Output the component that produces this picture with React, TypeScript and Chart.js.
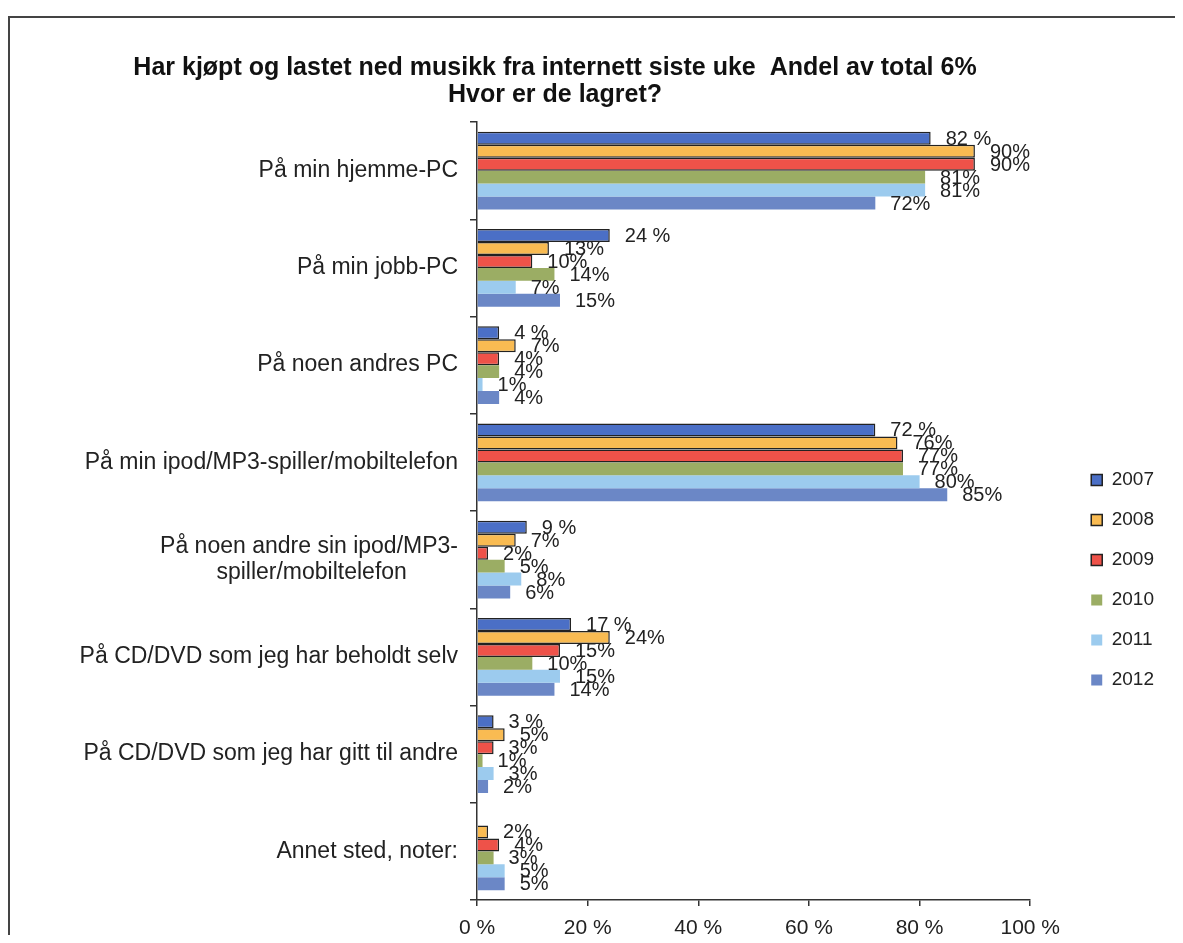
import React, { useEffect, useRef } from 'react';
import { Chart, registerables } from 'chart.js';

Chart.register(...registerables);

const titleLines = [
  'Har kjøpt og lastet ned musikk fra internett siste uke  Andel av total 6%',
  'Hvor er de lagret?',
];

const categories: (string | string[])[] = [
  'På min hjemme-PC',
  'På min jobb-PC',
  'På noen andres PC',
  'På min ipod/MP3-spiller/mobiltelefon',
  ['På noen andre sin ipod/MP3-', 'spiller/mobiltelefon        '],
  'På CD/DVD som jeg har beholdt selv',
  'På CD/DVD som jeg har gitt til andre',
  'Annet sted, noter:',
];

const years = ['2007', '2008', '2009', '2010', '2011', '2012'];

const v2007 = [82, 24, 4, 72, 9, 17, 3, null];
const v2008 = [90, 13, 7, 76, 7, 24, 5, 2];
const v2009 = [90, 10, 4, 77, 2, 15, 3, 4];
const v2010 = [81, 14, 4, 77, 5, 10, 1, 3];
const v2011 = [81, 7, 1, 80, 8, 15, 3, 5];
const v2012 = [72, 15, 4, 85, 6, 14, 2, 5];

const xTicks = [0, 20, 40, 60, 80, 100];

const seriesValues = [v2007, v2008, v2009, v2010, v2011, v2012];
const seriesColors = ['#4b6fc6', '#f9bb52', '#ee5249', '#9bad64', '#9ccbee', '#6b87c6'];
const seriesBorders = [1.5, 1.5, 1.5, 0, 0, 0];
const labelSeparators = [' ', '', '', '', '', ''];

const FONT = '"Liberation Sans", Arial, Helvetica, sans-serif';

const titlePlugin = {
  id: 'scanTitle',
  afterDraw(chart: any) {
    const ctx = chart.ctx;
    ctx.save();
    ctx.font = `bold 25px ${FONT}`;
    ctx.fillStyle = '#111';
    ctx.textAlign = 'center';
    ctx.textBaseline = 'middle';
    titleLines.forEach((line, i) => {
      ctx.fillText(line, 545, 50 + i * 27);
    });
    ctx.restore();
  },
};

const valueLabelPlugin = {
  id: 'valueLabels',
  afterDatasetsDraw(chart: any) {
    const ctx = chart.ctx;
    ctx.save();
    ctx.font = `20px ${FONT}`;
    ctx.fillStyle = '#222';
    ctx.textAlign = 'left';
    ctx.textBaseline = 'middle';
    chart.data.datasets.forEach((ds: any, i: number) => {
      const meta = chart.getDatasetMeta(i);
      meta.data.forEach((bar: any, j: number) => {
        const v = ds.data[j];
        if (v === null || v === undefined) return;
        ctx.fillText(`${v}${labelSeparators[i]}%`, bar.x + 15, bar.y + 1);
      });
    });
    ctx.restore();
  },
};

export default function App() {
  const ref = useRef<HTMLCanvasElement>(null);

  useEffect(() => {
    if (!ref.current) return;
    Chart.defaults.font.family = FONT;
    const chart = new Chart(ref.current, {
      type: 'bar',
      data: {
        labels: categories,
        datasets: years.map((y, i) => ({
          label: y,
          data: seriesValues[i],
          backgroundColor: seriesColors[i],
          borderColor: '#222',
          borderWidth: seriesBorders[i],
          categoryPercentage: 0.8,
          barPercentage: 1.0,
        })),
      },
      options: {
        indexAxis: 'y',
        responsive: false,
        animation: false,
        layout: { padding: { top: 104, right: 17, left: 0, bottom: 0 } },
        plugins: {
          title: { display: false },
          tooltip: { enabled: false },
          legend: {
            position: 'right',
            align: 'center',
            labels: {
              boxWidth: 11,
              boxHeight: 11,
              padding: 21,
              color: '#222',
              font: { size: 19, family: FONT },
            },
          },
        },
        scales: {
          x: {
            type: 'linear',
            position: 'bottom',
            min: 0,
            max: 100,
            afterBuildTicks: (s: any) => {
              s.ticks = xTicks.map((v) => ({ value: v }));
            },
            ticks: {
              callback: (v: any) => `${v} %`,
              color: '#222',
              padding: 10,
              font: { size: 21, family: FONT },
            },
            grid: {
              drawOnChartArea: false,
              drawTicks: true,
              tickLength: 6,
              color: '#333',
              lineWidth: 1.5,
            },
            border: { color: '#333', width: 1.5 },
            afterFit: (s: any) => {
              s.height = 138;
            },
          },
          y: {
            type: 'category',
            position: 'left',
            grid: {
              offset: true,
              drawOnChartArea: false,
              drawTicks: true,
              tickLength: 7,
              color: '#333',
              lineWidth: 1.5,
            },
            border: { color: '#333', width: 1.5 },
            ticks: {
              autoSkip: false,
              color: '#222',
              padding: 12,
              font: { size: 23, family: FONT, lineHeight: 1.1 },
            },
            afterFit: (s: any) => {
              s.width = 467;
            },
          },
          gap: {
            type: 'linear',
            axis: 'y',
            position: 'right',
            display: true,
            min: 0,
            max: 1,
            grid: { display: false, drawTicks: false },
            border: { display: false },
            ticks: { display: false },
            afterFit: (s: any) => {
              s.width = 40;
            },
          },
        },
      } as any,
      plugins: [valueLabelPlugin, titlePlugin],
    });
    return () => chart.destroy();
  }, []);

  return (
    <div style={{ paddingTop: 8, height: 927, width: 1175, boxSizing: 'border-box', overflow: 'hidden' }}>
      <div
        style={{
          position: 'relative',
          width: 1175,
          height: 919,
          borderTop: '2px solid #444',
          borderLeft: '2px solid #444',
          borderRight: '2px solid #444',
          boxSizing: 'border-box',
          overflow: 'hidden',
          background: '#fff',
        }}
      >
        <canvas ref={ref} width={1171} height={1020} style={{ display: 'block', width: 1171, height: 1020 }} />
      </div>
    </div>
  );
}
